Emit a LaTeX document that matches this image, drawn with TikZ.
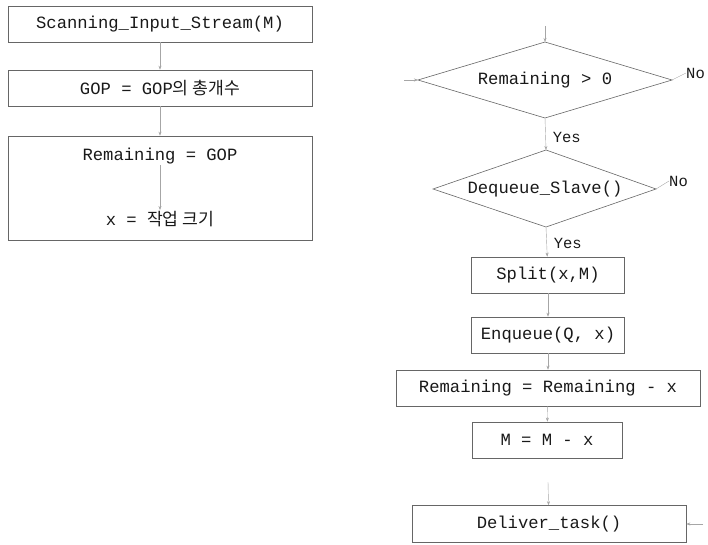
\documentclass[tikz,border=0pt]{standalone}
\usepackage{fontspec}
\setmonofont{Liberation Mono}
\newfontfamily\kofont{Noto Sans CJK KR}
\usetikzlibrary{arrows.meta}
\begin{document}
\begin{tikzpicture}[x=1pt,y=-1pt,
  every node/.style={font=\ttfamily\fontsize{17.2}{19}\selectfont, text=black!90},
  box/.style={draw=black!60, line width=0.6pt, inner sep=0pt, minimum height=36pt},
  edge/.style={draw=black!60, line width=0.6pt},
  flow/.style={draw=black!35, line width=0.4pt, -{Stealth[length=4pt,width=3pt]}},
  lbl/.style={font=\ttfamily\fontsize{15.5}{17}\selectfont, inner sep=0pt}]
\useasboundingbox (0,0) rectangle (708,545);

% left column: setup steps
\node[box, minimum width=304pt] (scan) at (160,24) {Scanning\_Input\_Stream(M)};
\node[box, minimum width=304pt] (gop) at (160,88) {GOP = GOP{\kofont 의 총개수}};
\node[box, minimum width=304pt, minimum height=104pt] (init) at (160,188) {};
\node[inner sep=1pt] (rem) at (160,156) {Remaining = GOP};
\node[inner sep=1pt] (xs) at (160,219) {x = {\kofont 작업 크기}};

\draw[flow] (scan) -- (gop);
\draw[flow] (gop) -- (init);
\draw[flow] (rem) -- (xs);

% right column: decisions (diamonds drawn from their corner points)
\node (more) at (545,80) {Remaining > 0};
\coordinate (more-n) at (545,42);
\coordinate (more-s) at (545,118);
\coordinate (more-w) at (418,80);
\coordinate (more-e) at (672,80);
\draw[edge] (more-n) -- (more-e) -- (more-s) -- (more-w) -- cycle;

\node (deq) at (545,189) {Dequeue\_Slave()};
\coordinate (deq-n) at (546,150);
\coordinate (deq-s) at (546,227);
\coordinate (deq-w) at (433,189);
\coordinate (deq-e) at (656,189);
\draw[edge] (deq-n) -- (deq-e) -- (deq-s) -- (deq-w) -- cycle;

% right column: processing steps
\node[box, minimum width=153pt] (split) at (548,275) {Split(x,M)};
\node[box, minimum width=153pt] (enq) at (548,335) {Enqueue(Q, x)};
\node[box, minimum width=304pt] (dec) at (548,388) {Remaining = Remaining - x};
\node[box, minimum width=150pt] (shrink) at (547,440) {M = M - x};
\node[box, minimum width=274pt, minimum height=37pt] (deliver) at (549,524) {Deliver\_task()};

\coordinate (entry) at (545,26);
\coordinate (back) at (404,80);
\coordinate (side) at (703,524);
\coordinate (down) at (548,482);

\draw[flow] (entry) -- (more-n);
\draw[flow] (back) -- (more-w);
\draw[flow] (more-s) -- node[lbl, pos=0.6, anchor=west, xshift=7pt] {Yes} (deq-n);
\draw[flow] (deq-s) -- node[lbl, pos=0.55, anchor=west, xshift=7pt] {Yes} (split);
\draw[flow] (split) -- (enq);
\draw[flow] (enq) -- (dec);
\draw[flow] (dec) -- (shrink);
\draw[flow] (down) -- (deliver);
\draw[flow] (side) -- (deliver.east);

\node[lbl, anchor=west] (nomore) at (686,73) {No};
\node[lbl, anchor=west] (nodeq) at (669,181) {No};
\draw[draw=black!35, line width=0.4pt] (more-e) -- (nomore.west);
\draw[draw=black!35, line width=0.4pt] (deq-e) -- (nodeq.west);
\end{tikzpicture}
\end{document}
